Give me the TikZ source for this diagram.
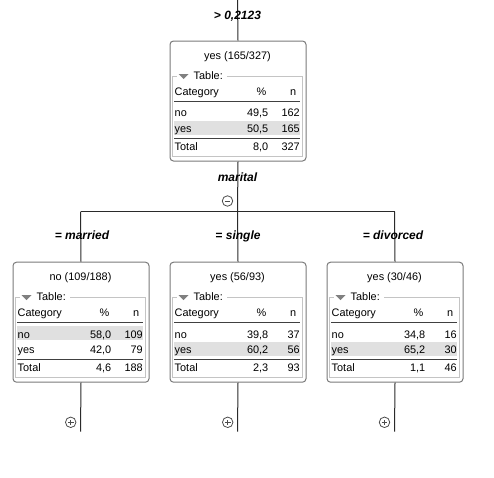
\documentclass[tikz,border=0pt]{standalone}
\usepackage{fontspec}
\setmainfont{Liberation Sans}
\definecolor{boxedge}{HTML}{7A7A7A}
\definecolor{framegray}{HTML}{C4C4C4}
\definecolor{bandgray}{HTML}{E0E0E0}
\definecolor{trigray}{HTML}{808080}
\definecolor{conncol}{HTML}{2A2A2A}
\tikzset{
  conn/.style={draw=conncol, line width=1pt},
  nodebox/.style={draw=boxedge, line width=1pt, rounded corners=3.5pt, minimum width=136pt, minimum height=120pt, inner sep=0pt},
  framestyle/.style={draw=framegray, line width=1pt},
  rulestyle/.style={draw=black!75, line width=1pt},
  txt/.style={inner sep=0pt, font=\fontsize{10.9}{13}\selectfont},
  lbl/.style={inner sep=0pt, anchor=base, font=\fontsize{12}{14}\selectfont\bfseries\itshape},
  toggle/.style={circle, draw=black!70, line width=0.8pt, minimum size=10.5pt, inner sep=0pt},
}
\newcommand\treebox[5]{% name, X, Y, title, band offset
  \node[nodebox, anchor=north west] (#1) at (#2,#3) {};
  \fill[bandgray] ({#2+4.5},{#3+#5}) rectangle ({#2+130.5},{#3+#5+14.3});
  \draw[framestyle] ({#2+7},{#3+35.5}) -- ({#2+3.2},{#3+35.5}) -- ({#2+3.2},{#3+116.2}) -- ({#2+132.8},{#3+116.2}) -- ({#2+132.8},{#3+35.5}) -- ({#2+57},{#3+35.5});
  \fill[trigray] ({#2+9},{#3+33.5}) -- ({#2+19},{#3+33.5}) -- ({#2+14},{#3+38.5}) -- cycle;
  \node[txt, anchor=base west] (#1-tab) at ({#2+24},{#3+38.8}) {Table:};
  \node[txt, anchor=base] (#1-title) at ({#2+68},{#3+18.5}) {#4};
  \draw[rulestyle] ({#2+4.5},{#3+61.2}) -- ({#2+130.5},{#3+61.2});
  \draw[rulestyle] ({#2+4.5},{#3+97.8}) -- ({#2+130.5},{#3+97.8});
  \node[txt, anchor=base west] (#1-hc) at ({#2+5},{#3+55.2}) {Category};
  \node[txt, anchor=base east] (#1-hp) at ({#2+97},{#3+55.2}) {\%};
  \node[txt, anchor=base east] (#1-hn) at ({#2+127},{#3+55.2}) {n};
}
\newcommand\tablerows[9]{% name, X, Y, no%, no n, yes%, yes n, tot%, tot n
  \node[txt, anchor=base west] (#1-r1c) at ({#2+5},{#3+76.4}) {no};
  \node[txt, anchor=base east] (#1-r1p) at ({#2+99},{#3+76.4}) {#4};
  \node[txt, anchor=base east] (#1-r1n) at ({#2+130.5},{#3+76.4}) {#5};
  \node[txt, anchor=base west] (#1-r2c) at ({#2+5},{#3+91.8}) {yes};
  \node[txt, anchor=base east] (#1-r2p) at ({#2+99},{#3+91.8}) {#6};
  \node[txt, anchor=base east] (#1-r2n) at ({#2+130.5},{#3+91.8}) {#7};
  \node[txt, anchor=base west] (#1-r3c) at ({#2+5},{#3+109.5}) {Total};
  \node[txt, anchor=base east] (#1-r3p) at ({#2+99},{#3+109.5}) {#8};
  \node[txt, anchor=base east] (#1-r3n) at ({#2+130.5},{#3+109.5}) {#9};
}
\begin{document}
\begin{tikzpicture}[x=1pt,y=-1pt]
\useasboundingbox (0,0) rectangle (494,477);
% boxes
\treebox{top}{169.5}{40.5}{yes (165/327)}{80}
\tablerows{top}{169.5}{40.5}{49,5}{162}{50,5}{165}{8,0}{327}
\treebox{b1}{12.5}{261.7}{no (109/188)}{64}
\tablerows{b1}{12.5}{261.7}{58,0}{109}{42,0}{79}{4,6}{188}
\treebox{b2}{169.5}{261.7}{yes (56/93)}{80}
\tablerows{b2}{169.5}{261.7}{39,8}{37}{60,2}{56}{2,3}{93}
\treebox{b3}{326.5}{261.7}{yes (30/46)}{80}
\tablerows{b3}{326.5}{261.7}{34,8}{16}{65,2}{30}{1,1}{46}
% coordinates
\coordinate (tin) at (237.5,0);
\coordinate (split) at (237.5,211.7);
\coordinate (hl) at (80.5,211.7);
\coordinate (hr) at (394.5,211.7);
\coordinate (e1) at (80.5,431.7);
\coordinate (e2) at (237.5,431.7);
\coordinate (e3) at (394.5,431.7);
% connectors
\draw[conn] (tin) -- (top.north);
\draw[conn] (top.south) -- (split);
\draw[conn] (hl) -- (hr);
\draw[conn] (hl) -- (b1.north);
\draw[conn] (split) -- (b2.north);
\draw[conn] (hr) -- (b3.north);
\draw[conn] (b1.south) -- (e1);
\draw[conn] (b2.south) -- (e2);
\draw[conn] (b3.south) -- (e3);
% labels
\node[lbl] (l0) at (237.5,19) {> 0,2123};
\node[lbl] (l1) at (237.5,181.7) {marital};
\node[lbl] (l2) at (82,239.5) {= married};
\node[lbl] (l3) at (238,239.5) {= single};
\node[lbl] (l4) at (393,239.5) {= divorced};
% toggles
\node[toggle, path picture={\draw[black!70, line width=0.8pt] ([xshift=-2.8pt]path picture bounding box.center) -- ([xshift=2.8pt]path picture bounding box.center);}] (m0) at (227.5,201) {};
\foreach \nm/\xx in {p1/70.7, p2/227.7, p3/384.5}{
  \node[toggle, path picture={\draw[black!70, line width=0.8pt] ([xshift=-2.8pt]path picture bounding box.center) -- ([xshift=2.8pt]path picture bounding box.center); \draw[black!70, line width=0.8pt] ([yshift=-2.8pt]path picture bounding box.center) -- ([yshift=2.8pt]path picture bounding box.center);}] (\nm) at (\xx,422.3) {};
}
\end{tikzpicture}
\end{document}
